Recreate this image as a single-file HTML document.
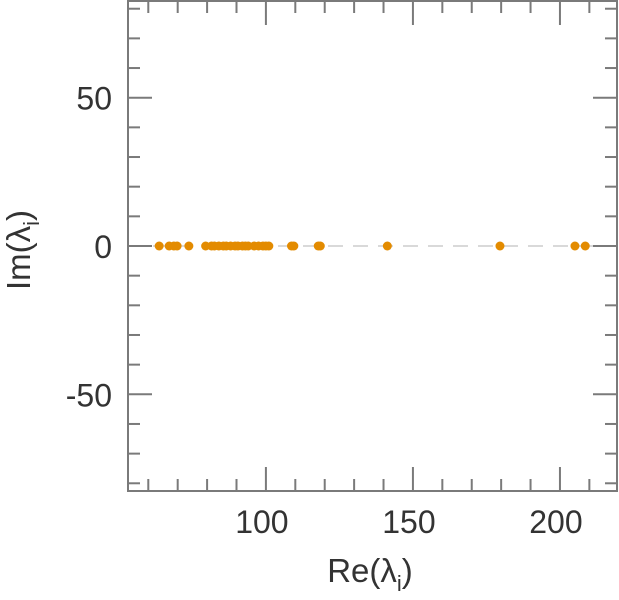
<!DOCTYPE html>
<html><head><meta charset="utf-8"><style>
html,body{margin:0;padding:0;background:#fff;}
svg{display:block;font-family:"Liberation Sans",sans-serif;}
</style></head><body>
<svg id="chart" width="619" height="600"></svg>
<script>
const reValues=[63.7,67.1,68.7,69.8,73.8,79.5,81.5,82.5,84,85.5,86.5,88,89.5,90.5,92,93,94,96,97.5,99,100,101,108.7,109.5,117.8,118.5,141.3,179.6,205.1,208.6];
const imValues=reValues.map(()=>0);
const xTickLabels=[100,150,200];
const yTickLabels=[50,0,-50];
const ns="http://www.w3.org/2000/svg";
const svg=document.getElementById('chart');
const L=128,R=617,T=1,B=491;
const xMin=53.1,xMax=219.4,yMin=-82.6,yMax=82.6;
const sx=v=>L+(v-xMin)/(xMax-xMin)*(R-L);
const sy=v=>B-(v-yMin)/(yMax-yMin)*(B-T);
function mk(tag,attrs){const e=document.createElementNS(ns,tag);for(const k in attrs)e.setAttribute(k,attrs[k]);svg.appendChild(e);return e;}
let z=mk('line',{x1:L,x2:R,y1:sy(0),y2:sy(0),stroke:'#d9d9d9','stroke-width':2,'stroke-dasharray':'15 10'});


const ax='#7a7a7a';
for(let v=60;v<=210;v+=10){const maj=v%50===0;const len=maj?24:12;
 const t1=mk('line',{x1:sx(v),x2:sx(v),y1:B,y2:B-len,stroke:ax,'stroke-width':2});
 
 
 const t2=mk('line',{x1:sx(v),x2:sx(v),y1:T,y2:T+len,stroke:ax,'stroke-width':2});
 
 }
for(let v=-80;v<=80;v+=10){const maj=v%50===0;const len=maj?24:12;
 const t1=mk('line',{x1:L,x2:L+len,y1:sy(v),y2:sy(v),stroke:ax,'stroke-width':2});
 
 
 const t2=mk('line',{x1:R,x2:R-len,y1:sy(v),y2:sy(v),stroke:ax,'stroke-width':2});
 
 }
const fr=mk('rect',{x:L,y:T,width:R-L,height:B-T,fill:'none',stroke:ax,'stroke-width':2});


xTickLabels.forEach(v=>{const t=mk('text',{x:sx(v)-4,y:533,'text-anchor':'middle','font-size':32,fill:'#333'});t.textContent=v;
 
 });
yTickLabels.forEach(v=>{const t=mk('text',{x:112,y:sy(v)+12,'text-anchor':'end','font-size':32,fill:'#333'});t.textContent=v;
 
 });
reValues.forEach((v,i)=>{const c=mk('circle',{cx:sx(v),cy:sy(imValues[i]),r:4.5,fill:'#e38b00'});
 
 });
const xt=mk('text',{x:370,y:582,'text-anchor':'middle','font-size':33,fill:'#333'});
xt.innerHTML='Re(λ<tspan font-size="22" dy="9">i</tspan><tspan dy="-9">)</tspan>';


const yt=mk('text',{x:0,y:0,'text-anchor':'middle','font-size':33,fill:'#333',transform:'translate(30,250) rotate(-90)'});
yt.innerHTML='Im(λ<tspan font-size="22" dy="9">i</tspan><tspan dy="-9">)</tspan>';


</script>
</body></html>
